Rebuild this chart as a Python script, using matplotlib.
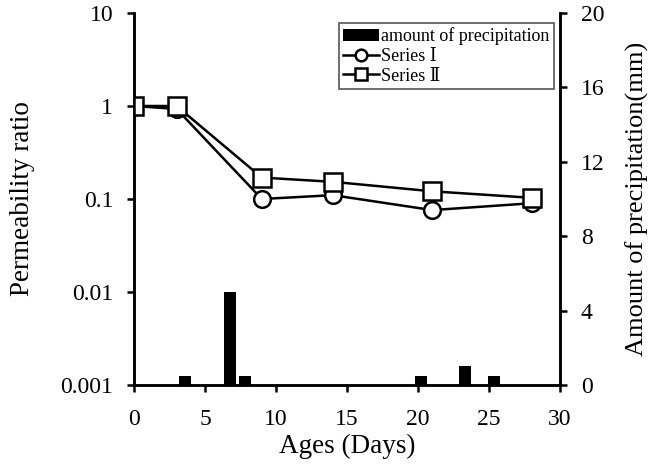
import matplotlib
matplotlib.use("Agg")
import matplotlib.pyplot as plt
from matplotlib.ticker import FixedLocator, FixedFormatter, NullLocator

plt.rcParams['font.family'] = ['Liberation Serif', 'DejaVu Serif']

# Data
ages = [0, 3, 9, 14, 21, 28]
series1 = [1.0, 0.93, 0.10, 0.11, 0.076, 0.09]
series2 = [1.0, 1.0, 0.17, 0.153, 0.121, 0.103]
rain_days = [3.6, 6.75, 7.8, 20.2, 23.3, 25.35]
rain_mm = [0.5, 5.0, 0.5, 0.5, 1.0, 0.5]

y1_ticks = [0.001, 0.01, 0.1, 1, 10]
y1_labels = ['0.001', '0.01', '0.1', '1', '10']
y2_ticks = [0, 4, 8, 12, 16, 20]
x_ticks = [0, 5, 10, 15, 20, 25, 30]

fig = plt.figure(figsize=(6.55, 4.65), dpi=100)
ax1 = fig.add_axes([134/655, 1-385/465, (560-134)/655, (385-13)/465])
ax2 = ax1.twinx()
ax1.set_zorder(2)
ax1.patch.set_visible(False)

bars = ax2.bar(rain_days, rain_mm, width=0.85, color='black', label='amount of precipitation')
l1, = ax1.plot(ages, series1, '-o', color='black', mfc='white', mec='black', ms=12, mew=1.8, lw=1.8, label='Series Ⅰ')
l2, = ax1.plot(ages, series2, '-s', color='black', mfc='white', mec='black', ms=13, mew=1.8, lw=1.8, label='Series Ⅱ')

ax1.set_yscale('log')
ax1.set_ylim(0.001, 10)
ax1.set_xlim(0, 30)
ax1.yaxis.set_major_locator(FixedLocator(y1_ticks))
ax1.yaxis.set_major_formatter(FixedFormatter(y1_labels))
ax1.yaxis.set_minor_locator(NullLocator())
ax1.set_xticks(x_ticks)
ax2.set_ylim(0, 20)
ax2.set_yticks(y2_ticks)

for ax in (ax1, ax2):
    ax.spines['top'].set_visible(False)
    for s in ax.spines.values():
        s.set_linewidth(1.8)
    ax.tick_params(direction='out', length=5, width=1.8, labelsize=17, pad=10)
ax1.tick_params(axis='x', pad=12)

ax1.set_xlabel('Ages (Days)', fontsize=19.5, labelpad=3)
ax1.set_ylabel('Permeability ratio', fontsize=19.5, labelpad=18)
ax2.set_ylabel('Amount of precipitation(mm)', fontsize=19, labelpad=15)

leg = ax1.legend([bars, l1, l2], ['amount of precipitation', 'Series Ⅰ', 'Series Ⅱ'],
                 loc='upper right', bbox_to_anchor=(554/655, 1-23/465), bbox_transform=fig.transFigure,
                 fontsize=13, frameon=True, fancybox=False, framealpha=1,
                 edgecolor='#555555', handlelength=2.0, handletextpad=0.1,
                 labelspacing=0.15, borderpad=0.25, borderaxespad=0, markerscale=0.7)
leg.get_frame().set_linewidth(1.2)

fig.savefig('out.png', dpi=100)
